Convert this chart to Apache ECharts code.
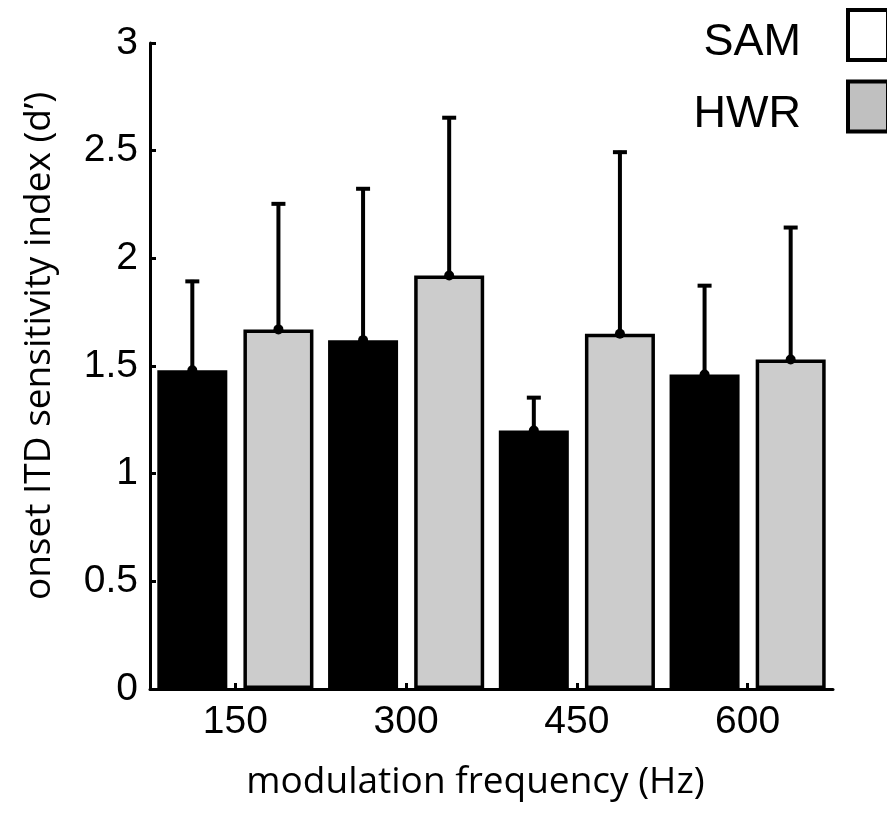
<!DOCTYPE html>
<html>
<head>
<meta charset="utf-8">
<script src="https://cdn.jsdelivr.net/npm/echarts@6/dist/echarts.min.js"></script>
<style>html,body{margin:0;padding:0;background:#fff;}#c{width:887px;height:816px;}</style>
</head>
<body>
<div id="c"></div>
<script>
var categories = ['150', '300', '450', '600'];
var samMean = [1.48, 1.62, 1.20, 1.46];
var samTop = [1.90, 2.33, 1.36, 1.88];
var hwrMean = [1.67, 1.92, 1.65, 1.53];
var hwrTop = [2.26, 2.66, 2.50, 2.15];
var yTicks = [0, 0.5, 1, 1.5, 2, 2.5, 3];

var BAR_W = 0.41, BAR_GAP = 0.23;
var offsetFrac = BAR_W * (1 + BAR_GAP) / 2;

function errRender(sign) {
  return function (params, api) {
    var ci = api.value(0);
    var base = api.coord([ci, api.value(1)]);
    var top = api.coord([ci, api.value(2)]);
    var band = api.size([1, 0])[0];
    var x = base[0] + sign * band * offsetFrac;
    var st = { stroke: '#000', lineWidth: 4 };
    return {
      type: 'group',
      children: [
        { type: 'line', shape: { x1: x, y1: base[1], x2: x, y2: top[1] }, style: st },
        { type: 'line', shape: { x1: x - 7, y1: top[1] + 1.5, x2: x + 7, y2: top[1] + 1.5 }, style: st },
        { type: 'circle', shape: { cx: x, cy: base[1], r: 5 }, style: { fill: '#000' } }
      ]
    };
  };
}

var samErrData = categories.map(function (c, i) { return [i, samMean[i], samTop[i]]; });
var hwrErrData = categories.map(function (c, i) { return [i, hwrMean[i], hwrTop[i]]; });

var chart = echarts.init(document.getElementById('c'), null, { renderer: 'canvas' });
chart.setOption({
  backgroundColor: '#fff',
  animation: false,
  grid: { left: 150, right: 54, top: 43, bottom: 127, containLabel: false },
  legend: {
    orient: 'vertical', right: -8, top: 3, align: 'right',
    itemWidth: 40, itemHeight: 50, itemGap: 14,
    formatter: '{t|{name}}',
    textStyle: { fontFamily: 'Liberation Sans', fontSize: 45, color: '#000', padding: [0, 42, 0, 0],
      rich: { t: { fontFamily: 'Liberation Sans', fontSize: 45, color: '#000', padding: [16, 0, 0, 0] } } },
    data: [
      { name: 'SAM', icon: 'rect', itemStyle: { color: '#fff', borderColor: '#000', borderWidth: 4 } },
      { name: 'HWR', icon: 'rect', itemStyle: { color: '#c0c0c0', borderColor: '#000', borderWidth: 4 } }
    ]
  },
  xAxis: {
    type: 'category', data: categories,
    name: 'modulation frequency (Hz)', nameLocation: 'middle', nameGap: 75,
    nameTextStyle: { fontFamily: 'Open Sans', fontSize: 37, color: '#000', padding: [0, 32, 0, 0] },
    axisLine: { lineStyle: { color: '#000', width: 3 } },
    axisTick: { show: true, inside: true, alignWithLabel: true, length: 6, lineStyle: { color: '#000', width: 3 } },
    axisLabel: { fontFamily: 'Liberation Sans', fontSize: 39, color: '#000', margin: 14 },
    splitLine: { show: false }
  },
  yAxis: {
    type: 'value', min: 0, max: 3, interval: 0.5,
    name: 'onset ITD sensitivity index (d\u2019)', nameLocation: 'middle', nameGap: 92,
    nameTextStyle: { fontFamily: 'Open Sans', fontSize: 37, color: '#000', padding: [0, 0, 0, 40] },
    axisLine: { show: true, lineStyle: { color: '#000', width: 3 } },
    axisTick: { show: true, inside: true, length: 6, lineStyle: { color: '#000', width: 3 } },
    axisLabel: { fontFamily: 'Liberation Sans', fontSize: 39, color: '#000', margin: 12,
      formatter: function (v) { return yTicks.indexOf(v) >= 0 ? String(v) : ''; } },
    splitLine: { show: false }
  },
  series: [
    { name: 'SAM', type: 'bar', data: samMean, barWidth: (BAR_W * 100) + '%', barGap: (BAR_GAP * 100) + '%',
      itemStyle: { color: '#000', borderColor: '#000', borderWidth: 3.5 } },
    { name: 'HWR', type: 'bar', data: hwrMean, barWidth: (BAR_W * 100) + '%', barGap: (BAR_GAP * 100) + '%',
      itemStyle: { color: '#cccccc', borderColor: '#000', borderWidth: 3.5 } },
    { name: 'SAM err', type: 'custom', renderItem: errRender(-1), data: samErrData, z: 5,
      encode: { x: 0, y: [1, 2] } },
    { name: 'HWR err', type: 'custom', renderItem: errRender(1), data: hwrErrData, z: 5,
      encode: { x: 0, y: [1, 2] } }
  ]
});
</script>
</body>
</html>
